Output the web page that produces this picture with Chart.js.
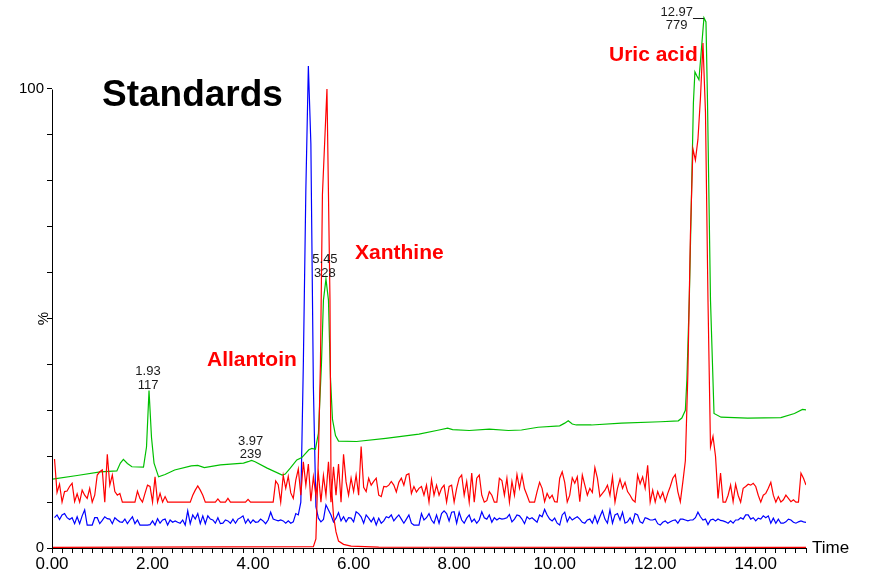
<!DOCTYPE html>
<html>
<head>
<meta charset="utf-8">
<title>Standards</title>
<script src="https://cdn.jsdelivr.net/npm/chart.js@4.4.1/dist/chart.umd.min.js"></script>
<style>
  html, body { margin: 0; padding: 0; background: #ffffff; }
  #wrap { width: 871px; height: 574px; }
</style>
</head>
<body>
<div id="wrap"><canvas id="chrom" width="871" height="574"></canvas></div>
<script>
// ---- Sampling grid of the two noisy traces (minutes) ----
const SAMPLE_START = 0.05;
const SAMPLE_STEP = 0.05;

// Red trace (uric acid channel), relative intensity %, one row per 0.5 min
const uricPct = [
  19.4, 12.1, 13.9, 10, 12.3, 12.4, 13.4, 14.1, 10.1, 11.8,
  10, 12.6, 11.5, 10.8, 13, 10, 11.5, 15.9, 16.6, 17,
  10, 20.4, 13.7, 15.9, 12.3, 11.5, 11.9, 10, 10, 10,
  10, 10, 10, 12.4, 10.8, 10, 11.9, 13.7, 13.4, 10,
  15.5, 10, 11.9, 10, 11.2, 10, 10, 10, 10, 10,
  10, 10, 10, 10, 10, 11.5, 12.6, 13.5, 12.6, 11.5,
  10, 10, 10, 10, 10, 10.7, 10, 10, 10, 10.8,
  10, 10, 10, 10, 10, 10, 10, 10.6, 10, 10,
  10, 10, 10, 10, 10, 10, 10, 10, 14.6, 13.8,
  10, 15.8, 13, 15.6, 12, 10.8, 14.8, 17.2, 11.5, 18.8,
  13.7, 18.3, 10.2, 15.5, 11.5, 16.2, 10, 15.8, 11.5, 18.8,
  10, 17.7, 11.5, 18.3, 10, 20.4, 14.4, 11.5, 15.2, 12.3,
  15.9, 11.5, 22.1, 13.2, 12.3, 15.2, 13.7, 14.5, 15.2, 11.5,
  11.2, 13.4, 13.3, 13.7, 14.5, 13.7, 12.2, 14.3, 15.2, 13.7,
  15.9, 16.2, 11.9, 13.4, 12.2, 13, 13.4, 11.5, 13.7, 10,
  14.9, 11.5, 13.7, 11.5, 13, 13.7, 10, 13.4, 13.7, 10,
  13, 15.2, 15.9, 11.5, 14.5, 10, 16.3, 10, 15.2, 15.9,
  11.5, 10, 10.3, 12.3, 11.5, 10, 10, 15.2, 14.7, 11.5,
  15.2, 10, 14.5, 11.5, 16, 13, 15.9, 12.9, 11.5, 10,
  10, 10, 12.3, 14.3, 13, 10.1, 11.9, 10.8, 11.5, 10.1,
  10, 15.2, 16.6, 14.3, 10, 11.5, 15.3, 14.1, 15.5, 10.1,
  15.9, 13.7, 11.5, 13, 12.1, 17.5, 15.2, 11.2, 11.9, 12.6,
  13.7, 11.5, 15.5, 10, 13, 15, 13, 14.3, 12.3, 11.5,
  10.5, 10, 15.9, 14, 15.5, 13, 18, 10, 12.6, 10,
  12.3, 10.8, 12.1, 10.1, 11.9, 13.4, 15.2, 16, 12.3, 10.1,
  14.4, 19, 38, 68, 87, 84.5, 89, 98, 110, 95,
  54, 22, 24.3, 20, 10.8, 16.3, 10, 10, 11.5, 13.7,
  10.1, 13.9, 11.5, 10, 13, 13.4, 13.9, 13.7, 14.1, 13.4,
  11.5, 10, 11.5, 11.9, 13, 14.3, 11.5, 10, 11.2, 10,
  10.5, 11.5, 10.8, 10.1, 10.5, 10, 10, 16.3, 15.2, 13.7
];

// Blue trace (allantoin channel), relative intensity %, same grid
const allantoinPct = [
  6.6, 7.2, 6.2, 7.2, 7.5, 6.6, 6.2, 6.6, 5.3, 6.8,
  5.3, 7.0, 8.3, 5.0, 5.0, 5.0, 6.6, 6.6, 5.3, 6.0,
  6.8, 6.4, 6.3, 5.3, 6.6, 6.1, 5.7, 5.6, 6.3, 5.3,
  6.1, 6.8, 5.3, 6.1, 5.0, 5.0, 5.0, 5.0, 5.1, 5.9,
  5.0, 6.4, 5.4, 6.1, 6.3, 5.0, 6.1, 5.6, 5.9, 5.6,
  5.4, 6.1, 5.0, 8.1, 5.3, 7.2, 6.3, 7.5, 5.3, 7.0,
  5.3, 7.0, 6.3, 6.1, 5.4, 6.6, 5.3, 5.4, 6.1, 5.9,
  5.4, 6.3, 5.4, 6.3, 6.6, 7.0, 5.4, 6.3, 5.4, 6.1,
  5.6, 5.7, 6.3, 5.9, 5.3, 6.1, 7.8, 6.3, 6.1, 5.9,
  6.1, 5.9, 5.4, 5.9, 5.4, 5.7, 7.5, 7.2, 10, 40,
  78, 105, 88, 35, 9, 6.5, 5.7, 6.2, 9.4, 8.3,
  7.2, 5.7, 6.5, 7.7, 5.9, 6.8, 5.7, 6.6, 6.5, 5.7,
  7.9, 7.5, 6.8, 5.4, 7.2, 6.5, 5.7, 6.6, 5.0, 6.5,
  5.4, 5.9, 6.8, 6.6, 7.2, 5.9, 6.6, 7.2, 6.3, 5.4,
  6.3, 7.2, 5.4, 5.0, 5.0, 5.0, 7.5, 6.1, 6.6, 7.5,
  6.1, 5.4, 7.2, 5.4, 7.5, 8.1, 7.5, 5.9, 7.8, 7.9,
  5.4, 7.8, 6.1, 5.4, 6.5, 7.2, 5.7, 6.3, 5.4, 6.1,
  7.9, 6.6, 6.3, 7.2, 5.6, 6.6, 6.1, 6.5, 6.3, 6.4,
  6.6, 7.3, 5.7, 6.3, 7.2, 7.0, 6.3, 5.3, 6.8, 6.3,
  6.6, 6.1, 5.6, 7.2, 6.8, 8.4, 7.2, 6.3, 5.9, 6.5,
  5.4, 5.0, 7.2, 7.8, 5.7, 6.8, 6.1, 6.5, 6.8, 6.3,
  5.6, 5.4, 6.1, 6.3, 5.4, 7.0, 5.4, 6.8, 8.1, 6.3,
  5.4, 8.3, 5.4, 7.2, 7.5, 6.1, 7.8, 5.4, 5.7, 6.6,
  5.4, 7.5, 7.2, 5.7, 5.4, 6.6, 6.4, 6.1, 6.1, 6.3,
  5.3, 5.0, 5.6, 5.9, 5.4, 5.7, 6.0, 6.1, 5.4, 6.3,
  6.3, 6.1, 5.9, 6.1, 6.1, 6.6, 7.8, 6.8, 6.1, 6.3,
  5.1, 6.1, 6.3, 5.9, 6.3, 6.0, 5.9, 5.7, 5.4, 5.9,
  5.4, 6.1, 6.1, 6.6, 6.3, 7.2, 7.2, 6.3, 6.6, 5.9,
  6.5, 6.3, 7.0, 6.6, 7.0, 5.4, 6.5, 5.4, 6.3, 5.4,
  5.4, 5.7, 6.3, 6.1, 5.6, 5.4, 5.7, 5.9, 5.7, 5.6
];

// Green trace (TIC-like), irregular sampling
const ticTime = [
  0.01, 0.50, 0.96, 1.29, 1.36, 1.42, 1.50, 1.59, 1.82, 1.88,
  1.93, 1.98, 2.03, 2.12, 2.25, 2.44, 2.77, 2.90, 3.03, 3.35,
  3.81, 3.90, 3.97, 4.04, 4.28, 4.58, 4.64, 4.74, 4.87, 4.97,
  5.11, 5.17, 5.24, 5.30, 5.36, 5.40, 5.45, 5.50, 5.54, 5.58,
  5.64, 5.70, 6.06, 6.64, 7.30, 7.70, 7.87, 7.97, 8.30, 8.70,
  9.08, 9.34, 9.67, 10.10, 10.20, 10.27, 10.35, 10.43, 10.73, 11.33,
  12.11, 12.46, 12.53, 12.60, 12.63, 12.68, 12.72, 12.76, 12.79, 12.83,
  12.87, 12.91, 12.97, 13.01, 13.04, 13.07, 13.10, 13.17, 13.31, 13.84,
  14.50, 14.77, 14.93, 15.00
];
const ticPct = [
  15.0, 15.8, 16.6, 16.8, 18.5, 19.3, 18.4, 17.7, 17.6, 22,
  34.3, 24, 18.5, 15.5, 16.0, 17.0, 17.9, 18.0, 17.5, 18.1,
  18.5, 18.8, 19.1, 18.8, 17.4, 15.9, 16.1, 17.4, 19.2, 19.7,
  21.4, 21.7, 21.5, 25, 40, 54, 58.6, 54, 37, 28,
  24.5, 23.3, 23.2, 23.9, 24.8, 25.7, 26.1, 25.8, 25.6, 25.9,
  25.6, 25.7, 26.3, 26.6, 27.2, 27.7, 27.0, 26.8, 26.8, 27.2,
  27.5, 27.7, 28.3, 30, 36.6, 55, 75.8, 97, 103.7, 102.8,
  102, 107.4, 115.5, 114.6, 97.6, 75.8, 54, 29.3, 28.5, 28.3,
  28.4, 29.3, 30.2, 30.1
];

// Red baseline trace (xanthine channel)
const xanthineTime = [0, 5.20, 5.25, 5.30, 5.34, 5.38, 5.47, 5.53, 5.55, 5.60, 5.65, 5.70, 5.80, 5.95, 6.50, 15.0];
const xanthinePct  = [0.15, 0.3, 2, 20, 40, 77, 100, 54, 15, 7, 3.5, 1.5, 0.8, 0.4, 0.2, 0.15];

// Peak labels on the green trace: retention time and area
const peakTimes = [1.93, 3.97, 5.45, 12.97];
const peakAreas = ['117', '239', '328', '779'];

// Axis ticks
const yTickValues = [0, 10, 20, 30, 40, 50, 60, 70, 80, 90, 100];
const yTickLabels = { 0: '0', 100: '100' };
const xMajorEvery = 2;   // minutes between numbered ticks

// Compound names
const compoundNames = ['Allantoin', 'Xanthine', 'Uric acid'];

const FONT = '"Liberation Sans", Arial, Helvetica, sans-serif';
const noiseTime = uricPct.map((_, i) => +(SAMPLE_START + i * SAMPLE_STEP).toFixed(2));
const toPoints = (xs, ys) => xs.map((x, i) => ({ x: x, y: ys[i] }));

const lineStyle = (color) => ({
  borderColor: color, borderWidth: 1.2, pointRadius: 0, tension: 0,
  fill: false, spanGaps: true
});

const decorations = {
  id: 'decorations',
  afterDraw(chart) {
    const { ctx, chartArea, scales } = chart;
    const xs = scales.x, ys = scales.y;
    ctx.save();

    // vertical axis line from 0 to 100 %
    const ax = Math.round(chartArea.left) + 0.5;
    ctx.strokeStyle = '#000';
    ctx.lineWidth = 1;
    ctx.beginPath();
    ctx.moveTo(ax, Math.round(ys.getPixelForValue(0)) + 0.5);
    ctx.lineTo(ax, Math.round(ys.getPixelForValue(100)) + 0.5);
    ctx.stroke();

    // axis titles
    ctx.fillStyle = '#000';
    ctx.font = '15px ' + FONT;
    ctx.save();
    ctx.translate(44, ys.getPixelForValue(50));
    ctx.rotate(-Math.PI / 2);
    ctx.textAlign = 'center';
    ctx.textBaseline = 'middle';
    ctx.fillText('%', 0, 0);
    ctx.restore();

    ctx.font = '17px ' + FONT;
    ctx.textAlign = 'left';
    ctx.textBaseline = 'middle';
    ctx.fillText('Time', chartArea.right + 6, chartArea.bottom);

    // title
    ctx.font = 'bold 37px ' + FONT;
    ctx.textBaseline = 'alphabetic';
    ctx.fillText('Standards', 102, 106);

    // compound names
    ctx.fillStyle = '#ff0000';
    ctx.font = 'bold 21px ' + FONT;
    const namePos = [[207, 366], [355, 259], [609, 61]];
    compoundNames.forEach((n, i) => ctx.fillText(n, namePos[i][0], namePos[i][1]));

    // peak annotations
    ctx.fillStyle = '#1a1a1a';
    ctx.strokeStyle = '#1a1a1a';
    ctx.font = '13px ' + FONT;
    peakTimes.forEach((t, i) => {
      const k = ticTime.indexOf(t);
      const px = xs.getPixelForValue(t);
      const py = ys.getPixelForValue(ticPct[k]);
      const label = t.toFixed(2);
      if (py - 30 > 0) {
        ctx.textAlign = 'center';
        ctx.fillText(label, px - 1, py - 15.5);
        ctx.fillText(peakAreas[i], px - 1, py - 2);
      } else {
        const w = ctx.measureText(label).width;
        const cx = px - 11 - w / 2;
        ctx.textAlign = 'center';
        ctx.fillText(label, cx, py - 2);
        ctx.fillText(peakAreas[i], cx, py + 11);
        ctx.lineWidth = 1;
        ctx.beginPath();
        ctx.moveTo(px - 11, Math.round(py) + 0.5);
        ctx.lineTo(px, Math.round(py) + 0.5);
        ctx.stroke();
      }
    });
    ctx.restore();
  }
};

new Chart(document.getElementById('chrom'), {
  type: 'line',
  data: {
    datasets: [
      Object.assign({ label: 'Uric acid', data: toPoints(noiseTime, uricPct) }, lineStyle('#ff0000')),
      Object.assign({ label: 'Xanthine', data: toPoints(xanthineTime, xanthinePct) }, lineStyle('#ff0000')),
      Object.assign({ label: 'TIC', data: toPoints(ticTime, ticPct) }, lineStyle('#00c000')),
      Object.assign({ label: 'Allantoin', data: toPoints(noiseTime, allantoinPct) }, lineStyle('#0000ff'))
    ]
  },
  options: {
    responsive: false,
    animation: false,
    devicePixelRatio: 1,
    layout: { padding: { top: 15.5, right: 65, left: 0, bottom: 0 } },
    plugins: { legend: { display: false }, tooltip: { enabled: false } },
    scales: {
      x: {
        type: 'linear', min: 0, max: 15,
        afterFit(scale) { scale.height = 26; },
        border: { display: true, color: '#000', width: 1 },
        grid: { drawOnChartArea: false, drawTicks: true, tickLength: 5, tickColor: '#000', color: '#000' },
        ticks: {
          stepSize: 0.2, autoSkip: false, maxRotation: 0, padding: 1,
          color: '#000', font: { family: FONT, size: 17 },
          callback: (v) => {
            const k = Math.round(v * 10);
            return k % (xMajorEvery * 10) === 0 ? (k / 10).toFixed(2) : '';
          }
        }
      },
      y: {
        min: 0, max: 116,
        afterFit(scale) { scale.width = 52; },
        afterBuildTicks(scale) { scale.ticks = yTickValues.map(v => ({ value: v })); },
        border: { display: false },
        grid: { drawOnChartArea: false, drawTicks: true, tickLength: 5, tickColor: '#000', color: '#000' },
        ticks: {
          padding: 3, color: '#000', font: { family: FONT, size: 15 },
          callback: (v) => (yTickLabels[v] !== undefined ? yTickLabels[v] : '')
        }
      }
    }
  },
  plugins: [decorations]
});
</script>
</body>
</html>
